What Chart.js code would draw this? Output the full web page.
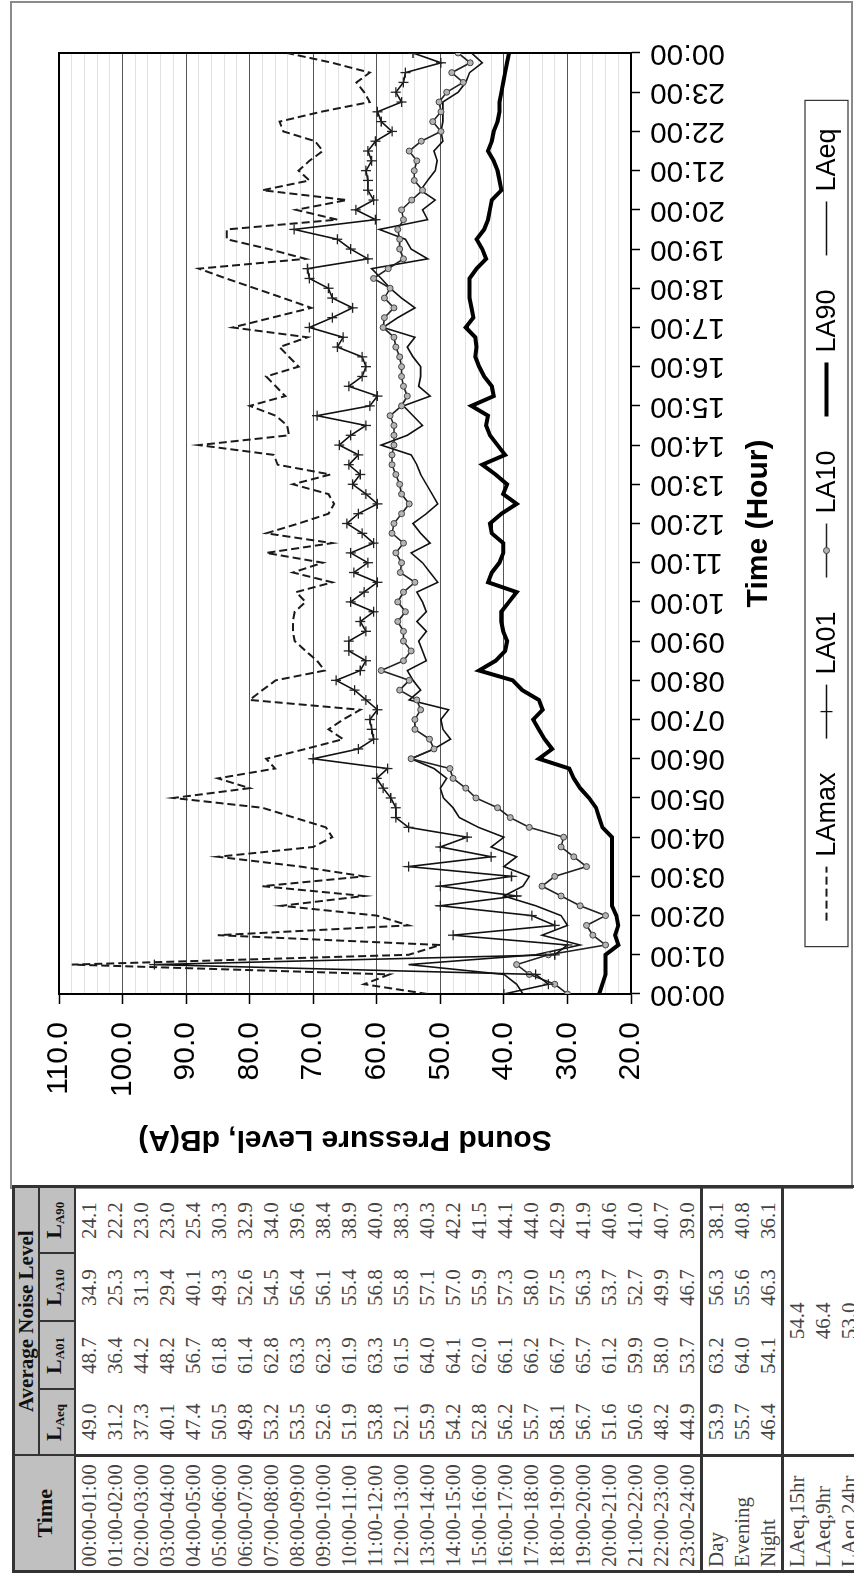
<!DOCTYPE html>
<html>
<head>
<meta charset="utf-8">
<script src="https://cdn.jsdelivr.net/npm/chart.js@4.4.1/dist/chart.umd.min.js"></script>
<style>
  html, body { margin: 0; padding: 0; background: #fff; width: 854px; height: 1573px; overflow: hidden; }
  /* the whole figure is a landscape page turned a quarter turn */
  #page { position: absolute; left: 0; top: 0; width: 1573px; height: 854px;
          transform-origin: 0 0; transform: translateY(1573px) rotate(-90deg); background: #fff; }
  #frame { position: absolute; left: 384px; top: 10px; width: 1188px; height: 843px;
           border: 2px solid #8a8a8a; box-sizing: border-box; }
  #chart { position: absolute; left: 386px; top: 12px; }
  #tbl { position: absolute; left: 0; top: 12px; width: 385px; border-collapse: collapse; table-layout: fixed;
         font-family: "Liberation Serif", "Times New Roman", serif; font-size: 21px; color: #444; }
  #tbl td, #tbl th { padding: 0; text-align: center; white-space: nowrap; overflow: hidden; }
  #tbl td { height: 26px; line-height: 26px; }
  #tbl th { background: #c0c0c0; color: #111; font-weight: bold; border: 2px solid #333; }
  #tbl th sub { font-size: 13px; vertical-align: -3px; }
  #tbl tr.h1 th { height: 23px; line-height: 23px; font-size: 21px; }
  #tbl tr.h2 th { height: 28px; line-height: 28px; font-size: 22px; }
  #tbl td.t { text-align: left; padding-left: 3px; border-right: 3px solid #333; }
  #tbl tr.sep td { border-top: 3px solid #333; }
  #tbl { border: 3px solid #333; }
</style>
</head>
<body>
<div id="page">
  <div id="frame"></div>
  <table id="tbl"></table>
  <canvas id="chart" width="1183" height="839"></canvas>
</div>
<script>
// quarter-hour readings, 00:00 .. 24:00
const TIMES = Array.from({ length: 97 }, (_, i) => i / 4);

const LAMAX = [
  52, 62, 58, 108, 55, 50, 85, 55, 60, 75, 62, 78, 62, 72, 85, 70, 67, 68, 73, 78, 92, 80, 85, 76,
  77.4, 71.2, 65.3, 67.6, 65.3, 62.6, 80.0, 78.0, 75.9, 68.2, 69.4, 71.2, 72.9, 73.2, 73.2, 72.9,
  71.2, 72.7, 67.0, 73.2, 68.5, 77.4, 67.0, 77.4, 72.3, 67.6, 66.7, 67.6, 73.2, 67.3, 75.6, 76.2,
  88.0, 73.8, 74.1, 75.9, 80.0, 74.4, 75.9, 77.4, 72.3, 73.8, 75.3, 70.9, 82.7, 76.5, 70.3, 74.7,
  79.2, 83.7, 88.0, 71.2, 77.0, 83.6, 83.6, 66.2, 72.7, 64.7, 78.0, 70.6, 72.3, 70.6, 68.5, 69.7,
  74.7, 75.3, 68.8, 61.1, 62.0, 63.2, 61.1, 67.0, 74.1
];
const LA01 = [
  40, 33, 35, 95, 32, 30, 48, 32, 35.6, 50, 38, 50, 38.8, 55, 42, 50, 45.8, 55, 57, 57, 57.8, 59, 60, 58.3,
  70.0, 62.9, 60.5, 60.8, 61.1, 59.9, 61.7, 63.5, 66.4, 62.6, 61.7, 64.4, 64.4, 61.7, 62.6, 60.5,
  64.1, 62.0, 59.9, 63.6, 61.4, 64.1, 60.5, 62.3, 64.7, 62.9, 59.9, 61.7, 63.8, 62.6, 64.4, 62.9,
  65.9, 64.1, 61.7, 69.4, 61.1, 59.9, 64.4, 62.3, 61.7, 62.3, 66.2, 65.3, 70.6, 67.0, 63.8, 67.0,
  67.6, 70.6, 70.9, 61.4, 64.1, 66.2, 73.0, 60.2, 63.3, 60.5, 61.4, 61.4, 61.7, 60.8, 61.4, 60.2,
  57.6, 59.3, 59.9, 56.1, 57.0, 55.8, 55.5, 49.9, 54.3
];
const LA10 = [
  30, 32, 36, 38, 33, 24, 26, 27, 24, 28, 31, 34, 32, 27, 29, 31, 30.6, 36, 39, 41, 44.4, 46, 48, 48.5,
  54.6, 51.0, 51.7, 54.0, 54.0, 53.1, 53.7, 56.4, 54.9, 59.3, 55.8, 54.6, 55.8, 55.8, 56.7, 55.5,
  56.7, 55.8, 54.0, 56.3, 56.1, 57.0, 55.8, 57.6, 57.3, 56.1, 54.9, 56.1, 56.4, 57.0, 57.6, 57.6,
  57.3, 57.3, 57.3, 57.9, 56.1, 55.2, 55.8, 56.1, 56.1, 56.4, 57.0, 57.3, 59.0, 58.8, 57.3, 58.8,
  57.9, 60.5, 58.2, 55.8, 56.4, 56.4, 56.7, 55.8, 56.1, 54.5, 52.8, 54.1, 54.1, 53.7, 54.9, 53.0,
  49.9, 51.2, 49.9, 50.2, 49.0, 46.4, 48.2, 45.3, 47.2
];
const LA90 = [
  25, 24.5, 24, 24, 24, 22, 22.5, 22, 22.3, 23, 23, 23, 23, 23, 23, 23, 23, 24.5, 25, 25.5, 26.6, 28, 29, 29.7,
  34.5, 32.4, 33.6, 34.5, 35.4, 33.9, 34.5, 37.1, 38.6, 43.9, 41.3, 39.8, 39.5, 40.1, 40.4, 40.4,
  39.2, 38.0, 42.5, 41.9, 40.7, 40.1, 40.1, 41.9, 42.2, 40.4, 38.0, 40.1, 39.5, 41.3, 43.4, 39.8,
  41.0, 42.2, 42.8, 42.5, 45.1, 41.6, 41.9, 43.1, 43.9, 44.5, 44.3, 44.5, 46.0, 44.8, 45.1, 45.4,
  45.4, 45.4, 44.3, 42.8, 43.4, 44.3, 43.1, 42.5, 42.2, 41.9, 40.4, 40.7, 41.0, 41.6, 42.5, 41.9,
  41.6, 41.0, 40.7, 40.7, 40.4, 40.1, 39.8, 39.5, 39.2
];
const LAEQ = [
  37, 38, 40, 55, 35, 28, 34, 30, 31, 35, 40, 37, 36, 40, 38, 42, 40, 44, 47, 48, 49.5, 50, 49, 51,
  54.6, 51.0, 48.4, 49.6, 49.9, 48.7, 54.9, 53.1, 54.3, 55.2, 52.2, 52.8, 53.4, 52.2, 53.7, 52.2,
  52.8, 53.7, 50.4, 51.6, 52.8, 54.6, 51.6, 53.1, 54.3, 52.2, 50.4, 51.3, 52.2, 53.1, 53.7, 54.6,
  59.3, 55.2, 52.8, 54.3, 55.8, 51.6, 53.4, 53.1, 53.1, 54.3, 55.2, 54.0, 59.0, 56.7, 54.0, 56.1,
  57.9, 59.3, 60.8, 52.0, 54.6, 55.5, 59.6, 52.0, 52.8, 50.8, 53.1, 52.0, 50.8, 50.5, 51.0, 49.6,
  49.9, 49.6, 49.6, 49.6, 47.2, 46.0, 45.4, 43.4, 45.1
];

// hourly table
const TBL_HOURS = [
  '00:00-01:00', '01:00-02:00', '02:00-03:00', '03:00-04:00', '04:00-05:00', '05:00-06:00',
  '06:00-07:00', '07:00-08:00', '08:00-09:00', '09:00-10:00', '10:00-11:00', '11:00-12:00',
  '12:00-13:00', '13:00-14:00', '14:00-15:00', '15:00-16:00', '16:00-17:00', '17:00-18:00',
  '18:00-19:00', '19:00-20:00', '20:00-21:00', '21:00-22:00', '22:00-23:00', '23:00-24:00'
];
const TBL_LAEQ = [49.0, 31.2, 37.3, 40.1, 47.4, 50.5, 49.8, 53.2, 53.5, 52.6, 51.9, 53.8, 52.1, 55.9, 54.2, 52.8, 56.2, 55.7, 58.1, 56.7, 51.6, 50.6, 48.2, 44.9];
const TBL_LA01 = [48.7, 36.4, 44.2, 48.2, 56.7, 61.8, 61.4, 62.8, 63.3, 62.3, 61.9, 63.3, 61.5, 64.0, 64.1, 62.0, 66.1, 66.2, 66.7, 65.7, 61.2, 59.9, 58.0, 53.7];
const TBL_LA10 = [34.9, 25.3, 31.3, 29.4, 40.1, 49.3, 52.6, 54.5, 56.4, 56.1, 55.4, 56.8, 55.8, 57.1, 57.0, 55.9, 57.3, 58.0, 57.5, 56.3, 53.7, 52.7, 49.9, 46.7];
const TBL_LA90 = [24.1, 22.2, 23.0, 23.0, 25.4, 30.3, 32.9, 34.0, 39.6, 38.4, 38.9, 40.0, 38.3, 40.3, 42.2, 41.5, 44.1, 44.0, 42.9, 41.9, 40.6, 41.0, 40.7, 39.0];

const PERIODS = ['Day', 'Evening', 'Night'];
const PER_LAEQ = [53.9, 55.7, 46.4];
const PER_LA01 = [63.2, 64.0, 54.1];
const PER_LA10 = [56.3, 55.6, 46.3];
const PER_LA90 = [38.1, 40.8, 36.1];

const SUMMARY_LABELS = ['LAeq,15hr', 'LAeq,9hr', 'LAeq,24hr'];
const SUMMARY_VALUES = [54.4, 46.4, 53.0];

const FONT = '"Liberation Sans", Arial, sans-serif';

// ---- table ----
function buildTable() {
  const tbl = document.getElementById('tbl');
  let html = '<colgroup><col style="width:116px"><col style="width:66px"><col style="width:68px">' +
             '<col style="width:68px"><col style="width:67px"></colgroup>';
  html += '<tr class="h1"><th rowspan="2" style="font-size:22px">Time</th><th colspan="4">Average Noise Level</th></tr>';
  html += '<tr class="h2"><th>L<sub>Aeq</sub></th><th>L<sub>A01</sub></th><th>L<sub>A10</sub></th><th>L<sub>A90</sub></th></tr>';
  TBL_HOURS.forEach((h, i) => {
    html += `<tr><td class="t">${h}</td><td>${TBL_LAEQ[i].toFixed(1)}</td><td>${TBL_LA01[i].toFixed(1)}</td>` +
            `<td>${TBL_LA10[i].toFixed(1)}</td><td>${TBL_LA90[i].toFixed(1)}</td></tr>`;
  });
  PERIODS.forEach((p, i) => {
    html += `<tr${i === 0 ? ' class="sep"' : ''}><td class="t">${p}</td><td>${PER_LAEQ[i].toFixed(1)}</td>` +
            `<td>${PER_LA01[i].toFixed(1)}</td><td>${PER_LA10[i].toFixed(1)}</td><td>${PER_LA90[i].toFixed(1)}</td></tr>`;
  });
  SUMMARY_LABELS.forEach((s, i) => {
    html += `<tr${i === 0 ? ' class="sep"' : ''}><td class="t">${s}</td><td colspan="4">${SUMMARY_VALUES[i].toFixed(1)}</td></tr>`;
  });
  tbl.innerHTML = html;
}
buildTable();

// ---- chart ----
const frameAndTitles = {
  id: 'frameAndTitles',
  beforeDatasetsDraw(chart) {
    const { ctx, chartArea: a } = chart;
    ctx.save();
    ctx.strokeStyle = '#000';
    ctx.lineWidth = 2;
    ctx.strokeRect(a.left, a.top, a.right - a.left, a.bottom - a.top);
    ctx.restore();
  },
  afterDraw(chart) {
    const { ctx, chartArea: a } = chart;
    ctx.save();
    ctx.fillStyle = '#000';
    ctx.font = 'bold 30px ' + FONT;
    ctx.textAlign = 'center';
    ctx.textBaseline = 'middle';
    ctx.fillText('Time (Hour)', (a.left + a.right) / 2, a.bottom + 128);
    ctx.translate(48, (a.top + a.bottom) / 2);
    ctx.rotate(-Math.PI / 2);
    ctx.fillText('Sound Pressure Level, dB(A)', 0, 0);
    ctx.restore();

    // boxed legend with line samples
    const items = chart.data.datasets;
    ctx.save();
    ctx.font = '27px ' + FONT;
    const sampleW = 54, gap = 10, itemGap = 34, padL = 26, padR = 28;
    const widths = items.map(d => ctx.measureText(d.label).width);
    const total = padL + padR + widths.reduce((s, w) => s + sampleW + gap + w, 0) + itemGap * (items.length - 1);
    const top = a.bottom + 174, h = 43, cy = top + h / 2;
    let x = (a.left + a.right) / 2 - total / 2;
    ctx.strokeStyle = '#333';
    ctx.lineWidth = 1.2;
    ctx.strokeRect(x, top, total, h);
    x += padL;
    items.forEach((d, i) => {
      ctx.save();
      ctx.strokeStyle = d.borderColor;
      ctx.lineWidth = d.borderWidth;
      ctx.setLineDash(d.borderDash || []);
      ctx.beginPath();
      ctx.moveTo(x, cy);
      ctx.lineTo(x + sampleW, cy);
      ctx.stroke();
      ctx.setLineDash([]);
      const mx = x + sampleW / 2;
      if (d.pointStyle === 'cross' && d.pointRadius) {
        ctx.lineWidth = 1.3;
        ctx.beginPath();
        ctx.moveTo(mx, cy - 6); ctx.lineTo(mx, cy + 6);
        ctx.stroke();
      } else if (d.pointStyle === 'circle' && d.pointRadius) {
        ctx.fillStyle = d.pointBackgroundColor;
        ctx.strokeStyle = d.pointBorderColor;
        ctx.lineWidth = 1;
        ctx.beginPath();
        ctx.arc(mx, cy, 3, 0, Math.PI * 2);
        ctx.fill();
        ctx.stroke();
      }
      ctx.restore();
      ctx.fillStyle = '#000';
      ctx.textAlign = 'left';
      ctx.textBaseline = 'middle';
      ctx.fillText(d.label, x + sampleW + gap, cy + 1);
      x += sampleW + gap + widths[i] + itemGap;
    });
    ctx.restore();
  }
};

const hourLabel = v => String(v % 24).padStart(2, '0') + ':00';

new Chart(document.getElementById('chart'), {
  type: 'line',
  data: {
    labels: TIMES,
    datasets: [
      { label: 'LAmax', data: LAMAX, borderColor: '#1a1a1a', borderWidth: 2, borderDash: [8, 4],
        pointRadius: 0 },
      { label: 'LA01', data: LA01, borderColor: '#111', borderWidth: 1.6, pointStyle: 'cross',
        pointRadius: 5, pointBorderWidth: 1.3, pointBorderColor: '#222' },
      { label: 'LA10', data: LA10, borderColor: '#222', borderWidth: 1.6, pointStyle: 'circle',
        pointRadius: 3, pointBackgroundColor: '#b4b4b4', pointBorderColor: '#444', pointBorderWidth: 1 },
      { label: 'LA90', data: LA90, borderColor: '#000', borderWidth: 4, pointRadius: 0 },
      { label: 'LAeq', data: LAEQ, borderColor: '#111', borderWidth: 1.6, pointRadius: 0 }
    ]
  },
  options: {
    responsive: false,
    animation: false,
    events: [],
    layout: { padding: { left: 0, right: 49, top: 47, bottom: 0 } },
    elements: { line: { tension: 0, fill: false } },
    plugins: { legend: { display: false }, tooltip: { enabled: false } },
    scales: {
      x: {
        type: 'linear', min: 0, max: 24,
        afterFit: s => { s.height = 220; },
        border: { color: '#000', width: 2 },
        grid: { drawOnChartArea: false, drawTicks: true, tickLength: 9, tickColor: '#000', tickWidth: 1.5 },
        ticks: { stepSize: 1, autoSkip: false, maxRotation: 90, minRotation: 90, padding: 10,
                 color: '#000', font: { family: FONT, size: 30 }, callback: hourLabel }
      },
      y: {
        min: 20, max: 110,
        afterFit: s => { s.width = 193; },
        border: { color: '#000', width: 2 },
        grid: {
          color: c => (c.tick && c.tick.value % 10 === 0) ? '#555' : '#e2e2e2',
          lineWidth: 1,
          tickLength: 10,
          tickColor: c => (c.tick && c.tick.value % 10 === 0) ? '#000' : 'rgba(0,0,0,0)',
          tickWidth: 1.5
        },
        ticks: { stepSize: 2, autoSkip: false, padding: 18, color: '#000',
                 font: { family: FONT, size: 30 },
                 callback: v => (v % 10 === 0 ? v.toFixed(1) : '') }
      }
    }
  },
  plugins: [frameAndTitles]
});
</script>
</body>
</html>
